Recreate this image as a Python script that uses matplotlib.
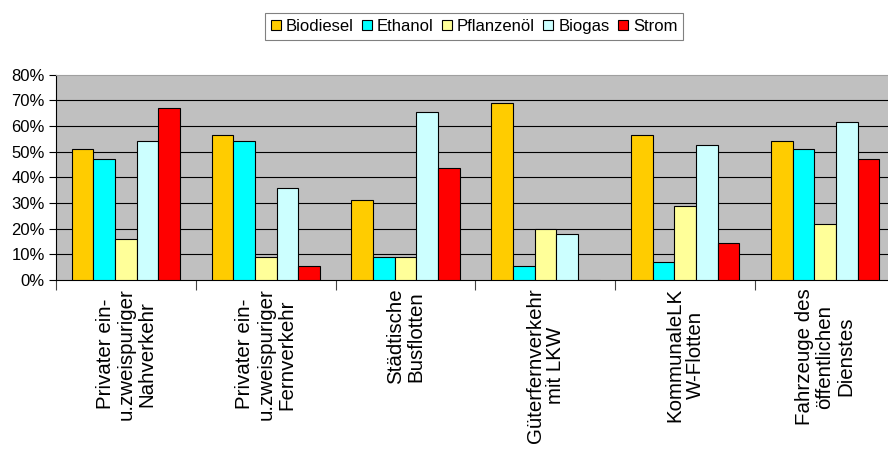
import matplotlib
matplotlib.use('Agg')
import matplotlib.pyplot as plt
import numpy as np

plt.rcParams['font.family'] = ['Liberation Sans', 'DejaVu Sans']

categories = [
    "Privater ein-\nu.zweispuriger\nNahverkehr",
    "Privater ein-\nu.zweispuriger\nFernverkehr",
    "Städtische\nBusflotten",
    "Güterfernverkehr\nmit LKW",
    "KommunaleLK\nW-Flotten",
    "Fahrzeuge des\nöffentlichen\nDienstes",
]
series = ["Biodiesel", "Ethanol", "Pflanzenöl", "Biogas", "Strom"]
biodiesel = [51, 56.5, 31, 69, 56.5, 54.3]
ethanol = [47, 54, 9, 5.5, 7, 51]
pflanzenoel = [16, 9, 9, 20, 29, 22]
biogas = [54, 36, 65.5, 18, 52.5, 61.6]
strom = [67, 5.5, 43.5, 0, 14.5, 47]
values = [biodiesel, ethanol, pflanzenoel, biogas, strom]
colors = ["#FFCC00", "#00FFFF", "#FFFF99", "#CCFFFF", "#FF0000"]

fig = plt.figure(figsize=(8.88, 4.55), dpi=100)
ax = fig.add_axes([56/888, 1-280/455, (895-56)/888, (280-74.7)/455])
ax.set_facecolor("#C0C0C0")

x = np.arange(len(categories))
w = 0.155
for i, (name, vals, col) in enumerate(zip(series, values, colors)):
    ax.bar(x + (i - 2) * w, vals, w, color=col, edgecolor="black",
           linewidth=0.8, label=name, zorder=3)

ax.set_xlim(-0.5, len(categories) - 0.5)
ax.set_ylim(0, 80)
ax.set_yticks(range(0, 81, 10))
ax.set_yticklabels(["%d%%" % v for v in range(0, 81, 10)], fontsize=12)
for v in range(10, 80, 10):
    ax.axhline(v, color="black", linewidth=0.8, zorder=1)

ax.set_xticks(x)
ax.set_xticklabels(categories, rotation=90, fontsize=14.8, linespacing=1.12,
                   multialignment="center")
ax.set_xticks(np.arange(-0.5, len(categories)), minor=True)
ax.tick_params(axis="x", which="major", length=0, pad=6)
ax.tick_params(axis="x", which="minor", length=7, width=0.8, color="#444444")
ax.tick_params(axis="y", length=5, width=0.8, pad=3)

ax.spines["top"].set_color("#A0A0A0")
ax.spines["right"].set_visible(False)
ax.spines["left"].set_linewidth(0.8)
ax.spines["bottom"].set_linewidth(0.8)

leg = fig.legend(loc="center", bbox_to_anchor=(474/888, 1-26.5/455), ncol=5,
                 fontsize=12, frameon=True, fancybox=False, shadow=False,
                 handlelength=0.6, handleheight=0.6, handletextpad=0.3,
                 columnspacing=0.5, borderpad=0.35, edgecolor="#606060")
leg.get_frame().set_linewidth(0.8)

fig.savefig("out.png", dpi=100)
